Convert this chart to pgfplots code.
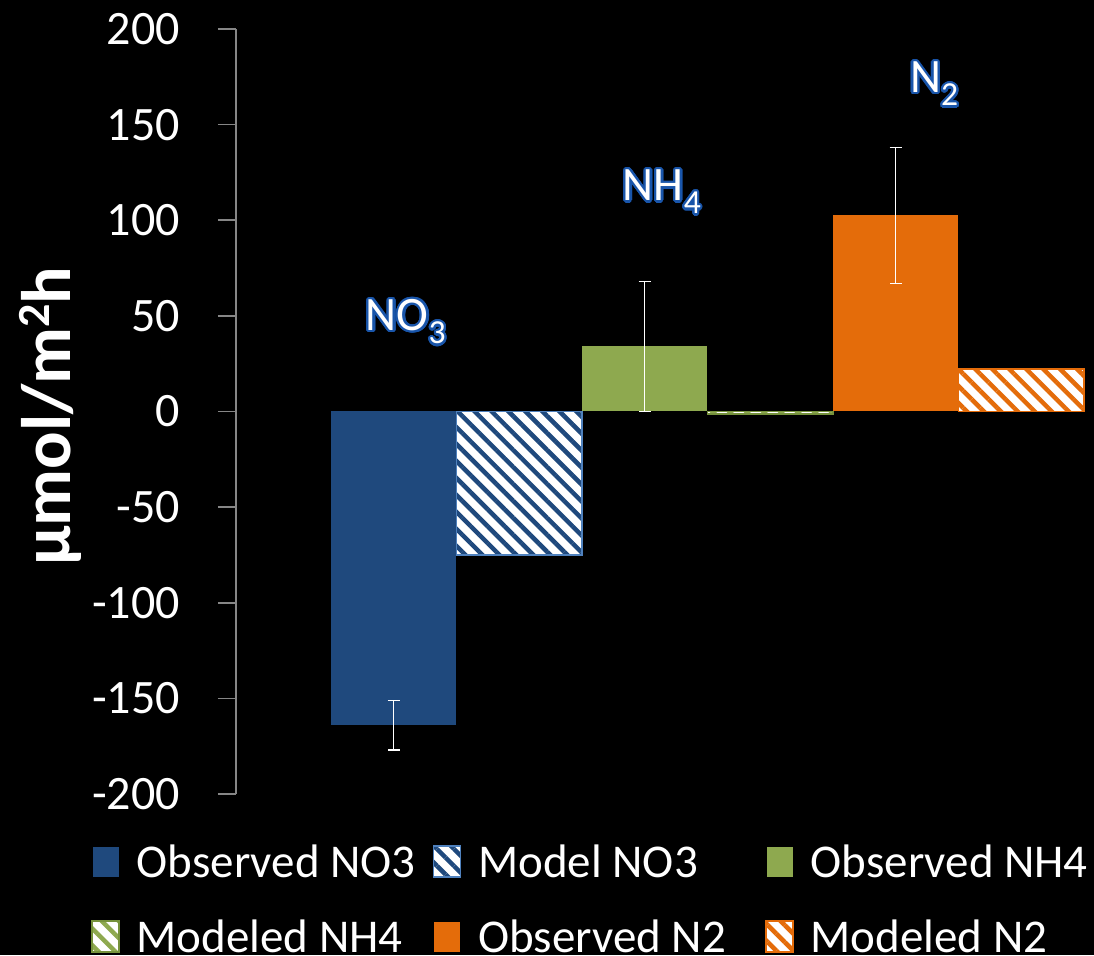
\documentclass[border=0pt]{standalone}
\usepackage{pgfplots}
\pgfplotsset{compat=1.18}
\usepackage{fontspec}
\setmainfont{Carlito}
\usetikzlibrary{patterns.meta}
\usepackage{contour}
\contourlength{2.2pt}
\contournumber{24}
\definecolor{nblue}{RGB}{31,73,125}
\definecolor{nblueL}{RGB}{79,129,189}
\definecolor{ngreen}{RGB}{142,169,79}
\definecolor{ngreenD}{RGB}{118,146,60}
\definecolor{norange}{RGB}{228,108,10}
\definecolor{nlab}{RGB}{25,85,170}
\definecolor{axgray}{RGB}{134,134,134}
\pagecolor{black}
\begin{document}
\begin{tikzpicture}
\fill[black] (-236pt,-161pt) rectangle (858pt,794pt);
\begin{axis}[
  scale only axis,
  width=848pt, height=765pt,
  at={(0,0)}, anchor=south west,
  xmin=-0.255, xmax=6.502,
  ymin=-200, ymax=200,
  ytick={-200,-150,...,200},
  hide x axis,
  axis y line*=left,
  y axis line style={axgray, line width=1.5pt},
  tick align=outside,
  major tick length=18pt,
  ytick style={axgray, line width=1.5pt},
  yticklabel style={text=white, font=\fontsize{48}{56}\selectfont, /pgf/number format/assume math mode=true, inner sep=0pt, xshift=-38pt},
  ylabel={\textbf{μmol/m\raisebox{0.3em}{\fontsize{46}{50}\selectfont 2}h}},
  ylabel style={text=white, font=\fontsize{70}{80}\selectfont, at={(axis description cs:-0.2193,0.494)}, rotate=0, anchor=center},
  clip=false,
  legend columns=3,
  legend cell align=left,
  legend style={draw=none, fill=none, text=white, font=\fontsize{47}{56}\selectfont,
    at={(axis description cs:-0.17099,-0.06405)}, anchor=north west, inner sep=0pt,
    cells={anchor=base west},
    nodes={inner sep=0pt, text height=34pt, text depth=12pt},
    row sep=29pt,
    /tikz/every odd column/.append style={column sep=17pt}},
  legend image code/.code={\draw[#1] (0pt,0pt) rectangle (27pt,31pt);},
]
\addplot[ybar, bar width=1, bar shift=0pt, fill=nblue, draw=none,
  error bars/.cd, y dir=both, y explicit,
  error bar style={white, line width=1.5pt},
  error mark options={white, line width=1.5pt, mark size=6pt, rotate=90}]
  table[x=x, y=y, y error=e] {
x y e
1 -164 13
};
\addlegendentry{\makebox[296pt][l]{Observed NO3}}
\addplot[ybar, bar width=1, bar shift=0pt, fill=white, draw=nblueL, line width=1.5pt,
  postaction={pattern={Lines[angle=-45,distance=12pt,line width=4.5pt]}, pattern color=nblue}]
  coordinates {(2,-75)};
\addlegendentry{\makebox[287pt][l]{Model NO3}}
\addplot[ybar, bar width=1, bar shift=0pt, fill=ngreen, draw=none,
  error bars/.cd, y dir=both, y explicit,
  error bar style={white, line width=1.5pt},
  error mark options={white, line width=1.5pt, mark size=6pt, rotate=90}]
  table[x=x, y=y, y error=e] {
x y e
3 34 34
};
\addlegendentry{Observed NH4}
\addplot[ybar, bar width=1, bar shift=0pt, fill=white, draw=ngreenD, line width=1.5pt,
  postaction={pattern={Lines[angle=-45,distance=12pt,line width=4.5pt]}, pattern color=ngreen}]
  coordinates {(4,-1.3)};
\addlegendentry{\makebox[296pt][l]{Modeled NH4}}
\addplot[ybar, bar width=1, bar shift=0pt, fill=norange, draw=none,
  error bars/.cd, y dir=both, y explicit,
  error bar style={white, line width=1.5pt},
  error mark options={white, line width=1.5pt, mark size=6pt, rotate=90}]
  table[x=x, y=y, y error=e] {
x y e
5 102.5 35.5
};
\addlegendentry{\makebox[287pt][l]{Observed N2}}
\addplot[ybar, bar width=1, bar shift=0pt, fill=white, draw=norange, line width=1.5pt,
  postaction={pattern={Lines[angle=-45,distance=12pt,line width=4.5pt]}, pattern color=norange}]
  coordinates {(6,22.2)};
\addlegendentry{Modeled N2}
\node[font=\fontsize{48}{56}\selectfont, text=white] at (axis cs:1.10,46.3) {\contour{nlab}{NO\textsubscript{3}}};
\node[font=\fontsize{48}{56}\selectfont, text=white] at (axis cs:3.14,114.2) {\contour{nlab}{NH\textsubscript{4}}};
\node[font=\fontsize{48}{56}\selectfont, text=white] at (axis cs:5.31,170.7) {\contour{nlab}{N\textsubscript{2}}};
\end{axis}
\pgfresetboundingbox
\path (-236pt,-161pt) rectangle (858pt,794pt);
\end{tikzpicture}
\end{document}
